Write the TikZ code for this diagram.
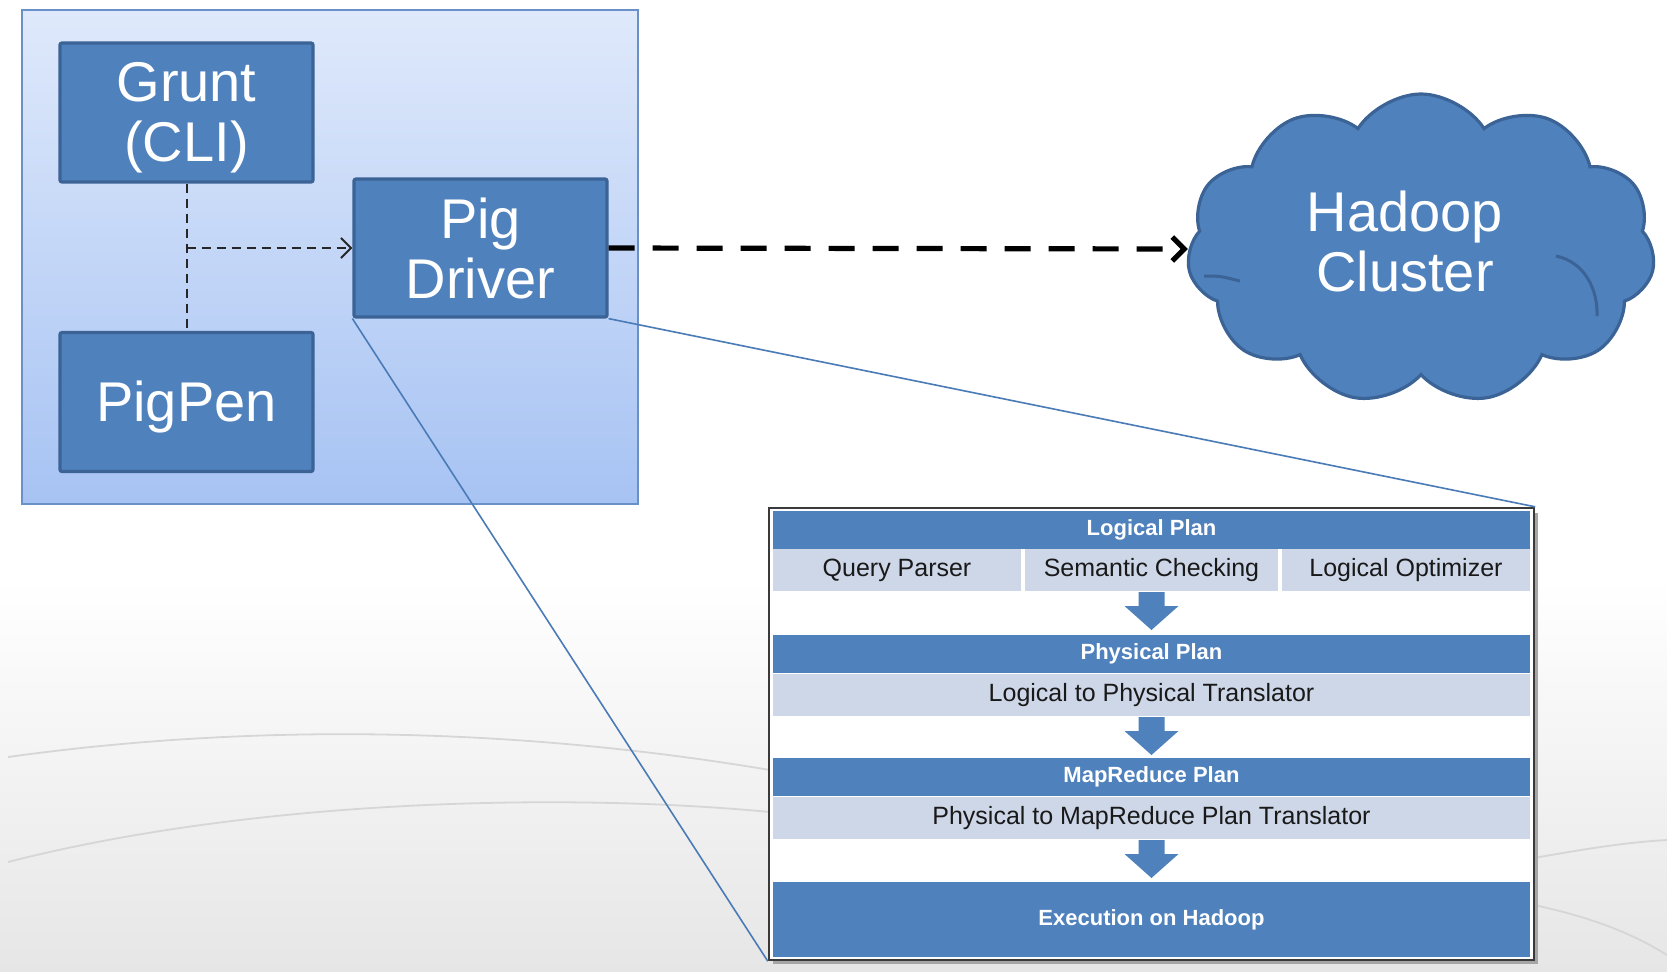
\documentclass[tikz,border=0pt]{standalone}
\usepackage{fontspec}
\setmainfont{Liberation Sans}
\usetikzlibrary{shapes.symbols,arrows.meta,calc}
\definecolor{boxblue}{HTML}{4F81BD}
\definecolor{boxedge}{HTML}{3B6396}
\definecolor{paneltop}{HTML}{DFE9FB}
\definecolor{panelbot}{HTML}{A7C3F3}
\definecolor{paneledge}{HTML}{6A90C8}
\definecolor{rowfill}{HTML}{CED7E8}
\definecolor{linkblue}{HTML}{4A7BB7}
\definecolor{bggray}{HTML}{E6E6E6}
\definecolor{swoosh}{HTML}{D6D6D6}
\definecolor{planedge}{HTML}{3A3A3A}
\newcommand{\LblBig}{\fontsize{28}{30}\selectfont}
\newcommand{\LblHead}{\fontsize{11}{13}\selectfont\bfseries}
\newcommand{\LblRow}{\fontsize{12.5}{14}\selectfont}
\begin{document}
\begin{tikzpicture}[x=0.5pt,y=-0.5pt,
  bluebox/.style={draw=boxedge, line width=1.6pt, fill=boxblue, text=white,
    font=\LblBig, align=center, inner sep=0pt, rounded corners=1pt,
    minimum width=126.5pt, minimum height=69.5pt},
  headbar/.style={fill=boxblue, text=white, font=\LblHead, inner sep=0pt,
    minimum width=378.5pt, minimum height=19pt},
  rowbar/.style={fill=rowfill, text=black!90, font=\LblRow, inner sep=0pt,
    minimum width=378.5pt, minimum height=21pt},
  thindash/.style={black!85, line width=1pt, dash pattern=on 4.5pt off 3pt},
  thickdash/.style={black, line width=2.6pt, dash pattern=on 13pt off 9pt},
  link/.style={linkblue, line width=0.8pt},
  blockarrow/.style={fill=boxblue},
  crease/.style={boxedge, line width=1.5pt},
  swooshline/.style={swoosh, line width=0.9pt}
]
\useasboundingbox (0,0) rectangle (1667,971);
\fill[white] (0,0) rectangle (1667,971);
\shade[top color=white, bottom color=bggray] (0,580) rectangle (1667,971);
% background swooshes
\draw[swooshline] (8,757) .. controls (260,722) and (520,728) .. (770,770);
\draw[swooshline] (8,862) .. controls (250,800) and (560,792) .. (770,812);
\draw[swooshline] (1534,858) .. controls (1590,848) and (1630,842) .. (1667,840);
\draw[swooshline] (1534,905) .. controls (1595,918) and (1635,935) .. (1667,955);

% left panel
\node[draw=paneledge, line width=1pt, top color=paneltop, bottom color=panelbot,
  minimum width=308pt, minimum height=247pt, inner sep=0pt] (panel) at (330,257) {};

\node[bluebox] (grunt) at (186.5,112.5) {\rule{0pt}{25pt}Grunt\\(CLI)};
\node[bluebox] (pigpen) at (186.5,402) {\rule{0pt}{25pt}PigPen};
\node[bluebox, minimum height=69pt] (driver) at (480.5,248) {Pig\\Driver};

\draw[thindash] (grunt.south) -- (pigpen.north);
\coordinate (junction) at (grunt.south |- driver.west);
\draw[thindash, -{Straight Barb[length=5pt,width=10pt]}] (junction) -- (driver.west);

% cloud
\node[cloud, cloud puffs=11, cloud puff arc=115, aspect=1.5, draw=boxedge,
  line width=1.6pt, fill=boxblue, minimum width=234pt, minimum height=155pt,
  inner sep=0pt] (cloud) at (1421,249) {};
\draw[crease] (1556,256) .. controls (1585,262) and (1598,290) .. (1597,316);
\draw[crease] (1204,276) .. controls (1220,276) .. (1240,281);
\node[text=white, font=\LblBig, align=center, inner sep=0pt] (cloudtext) at (1405,241) {Hadoop\\Cluster};

\draw[thickdash, -{Straight Barb[length=6pt,width=12pt]}] (driver.east) -- (cloud.west);

% plan box
\fill[black!35] (773,513) rectangle (1538,964);
\node[draw=planedge, line width=1.2pt, fill=white, minimum width=382.5pt,
  minimum height=226pt, inner sep=0pt] (plan) at (1151.5,734) {};

\draw[link] (driver.south east) -- (plan.north east);
\draw[link] (driver.south west) -- (plan.south west);

\node[headbar] (h1) at (1151.5,529.5) {Logical Plan};
\node[rowbar, minimum width=124pt] (r1a) at (897,570) {Query Parser};
\node[rowbar, minimum width=126.5pt] (r1b) at (1151.5,570) {Semantic Checking};
\node[rowbar, minimum width=124pt] (r1c) at (1406,570) {Logical Optimizer};
\node[headbar] (h2) at (1151.5,654) {Physical Plan};
\node[rowbar] (r2) at (1151.5,695) {Logical to Physical Translator};
\node[headbar] (h3) at (1151.5,777) {MapReduce Plan};
\node[rowbar] (r3) at (1151.5,818) {Physical to MapReduce Plan Translator};
\node[headbar, minimum height=37.5pt] (exec) at (1151.5,919.5) {Execution on Hadoop};

% block arrows
\foreach \t/\m/\b in {592/606/630, 717/731/755, 840/854/878}{
  \fill[blockarrow] (1138.5,\t) -- (1164.5,\t) -- (1164.5,\m) -- (1178.5,\m)
    -- (1151.5,\b) -- (1124.5,\m) -- (1138.5,\m) -- cycle;
}
\end{tikzpicture}
\end{document}
